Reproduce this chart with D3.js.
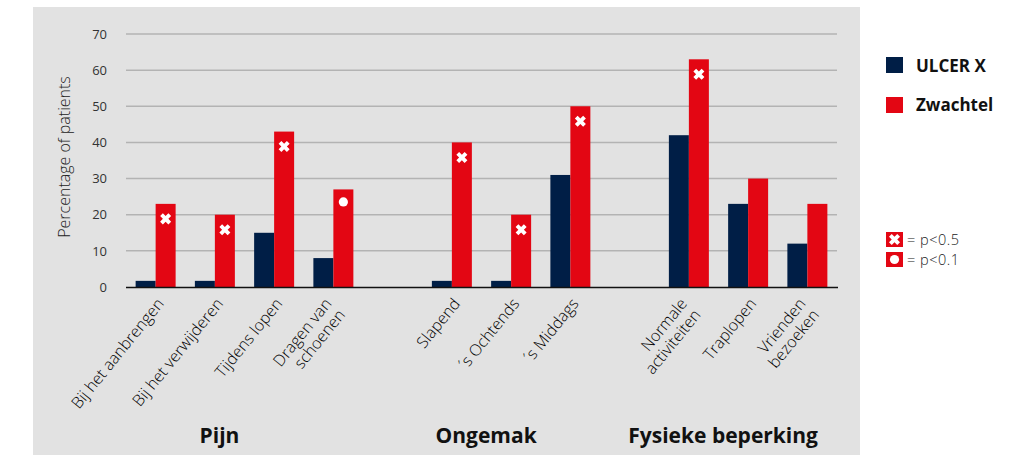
<!DOCTYPE html>
<html><head><meta charset="utf-8">
<script src="https://cdn.jsdelivr.net/npm/d3@7"></script>
<style>
html,body{margin:0;padding:0;background:#fff;}
svg{display:block;font-family:"Open Sans",sans-serif;}
</style></head>
<body>
<svg id="chart" width="1014" height="455"></svg>
<script>
const categories = ["Bij het aanbrengen","Bij het verwijderen","Tijdens lopen","Dragen van\nschoenen","Slapend","´s Ochtends","´s Middags","Normale\nactiviteiten","Traplopen","Vrienden\nbezoeken"];
const groupNames = ["Pijn","Ongemak","Fysieke beperking"];
const groupOf = [0,0,0,0,1,1,1,2,2,2];
const ulcerX = [1.7,1.7,15,8,1.7,1.7,31,42,23,12];
const zwachtel = [23,20,43,27,40,20,50,63,30,23];
const significance = ["x","x","x","o","x","x","x","x","",""];
const yTicks = [0,10,20,30,40,50,60,70];
const seriesNames = ["ULCER X","Zwachtel"];
const sigLegend = [["x","= p<0.5"],["o","= p<0.1"]];

const NAVY = "#001e46", RED = "#e30613", BG = "#e2e2e2";
const svg = d3.select("#chart");

svg.append("rect").attr("x",33).attr("y",7).attr("width",827).attr("height",448).attr("fill",BG);

const slots = [];
categories.forEach((c,i)=>{ if(i>0 && groupOf[i]!==groupOf[i-1]) slots.push("gap"+groupOf[i]); slots.push(c); });
const x = d3.scaleBand().domain(slots).range([126,837]).paddingInner(0).paddingOuter(0);
const y = d3.scaleLinear().domain([0,70]).range([287,34]);
const bw = x.bandwidth()*0.3375;
const cx = c => x(c)+x.bandwidth()/2;

svg.append("g").selectAll("line").data(yTicks.filter(t=>t>0)).join("line")
  .attr("x1",126).attr("x2",837).attr("y1",d=>y(d)).attr("y2",d=>y(d))
  .attr("stroke","#b3b3b3").attr("stroke-width",1.5);

const yAxis = d3.axisLeft(y).tickValues(yTicks).tickSize(0).tickPadding(0);
const ya = svg.append("g").attr("transform","translate(107,0)").call(yAxis);
ya.select(".domain").remove();
ya.selectAll("text").attr("font-size",13).attr("fill","#333").attr("font-family","Open Sans");

svg.append("text").attr("transform","translate(70,157) rotate(-90)").attr("text-anchor","middle")
  .attr("font-size",16).attr("fill","#222").attr("font-weight",300).text("Percentage of patients");

svg.append("g").selectAll("rect").data(categories).join("rect")
  .attr("x",c=>cx(c)-bw).attr("width",bw)
  .attr("y",(c,i)=>y(ulcerX[i])).attr("height",(c,i)=>y(0)-y(ulcerX[i])).attr("fill",NAVY);
svg.append("g").selectAll("rect").data(categories).join("rect")
  .attr("x",c=>cx(c)).attr("width",bw)
  .attr("y",(c,i)=>y(zwachtel[i])).attr("height",(c,i)=>y(0)-y(zwachtel[i])).attr("fill",RED);

svg.append("line").attr("x1",126).attr("x2",838).attr("y1",y(0)+0.5).attr("y2",y(0)+0.5).attr("stroke","#111").attr("stroke-width",1.5);

const xSym = d3.symbol().type(d3.symbolCross).size(76);
function marker(g,type){
  if(type==="x") g.append("path").attr("d",xSym()).attr("transform","rotate(45)").attr("fill","#fff");
  else if(type==="o") g.append("circle").attr("r",4.6).attr("fill","#fff");
}
categories.forEach((c,i)=>{
  if(!significance[i]) return;
  const off = significance[i]==="x"?15:12.5;
  const g = svg.append("g").attr("transform",`translate(${cx(c)+bw/2},${y(zwachtel[i])+off})`);
  marker(g,significance[i]);
});

const ANG = -51;
categories.forEach((c,i)=>{
  const lines = c.split("\n");
  const ax = lines.length>1 ? cx(c)-1 : cx(c)+9;
  const t = svg.append("text").attr("transform",`translate(${ax},304) rotate(${ANG})`)
    .attr("text-anchor","end").attr("font-size",16).attr("fill","#000").attr("font-weight",300);
  lines.forEach((l,k)=>t.append("tspan").attr("x",0).attr("dy",k?"1.1em":0).text(l));
});

groupNames.forEach((gname,gi)=>{
  const cs = categories.filter((c,i)=>groupOf[i]===gi);
  const mid = (cx(cs[0])+cx(cs[cs.length-1]))/2 - 25;
  svg.append("text").attr("x",mid).attr("y",443).attr("text-anchor","middle")
    .attr("font-size",21).attr("font-weight",700).attr("fill","#111").text(gname);
});

const leg = svg.append("g");
seriesNames.forEach((s,i)=>{
  leg.append("rect").attr("x",886).attr("y",57+i*40).attr("width",17).attr("height",16).attr("fill",i?RED:NAVY);
  leg.append("text").attr("x",916).attr("y",72+i*38.5).attr("font-size",17).attr("font-weight",700).attr("fill","#111").text(s);
});
sigLegend.forEach(([type,label],i)=>{
  const yy = 232+i*20;
  leg.append("rect").attr("x",886).attr("y",yy).attr("width",17).attr("height",15).attr("fill",RED);
  const g = leg.append("g").attr("transform",`translate(894.5,${yy+7.5})`);
  marker(g,type);
  leg.append("text").attr("x",907).attr("y",yy+13).attr("font-size",14.5).attr("letter-spacing",0.5).attr("fill","#222").attr("font-weight",300).text(label);
});
</script>
</body></html>
